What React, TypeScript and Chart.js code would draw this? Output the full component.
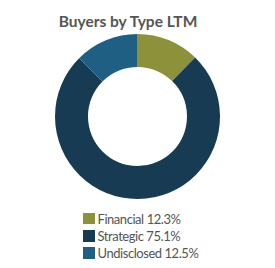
import React, { useEffect, useRef } from "react";
import { Chart, registerables } from "chart.js";

Chart.register(...registerables);

const title = "Buyers by Type LTM";
const categories = ["Financial", "Strategic", "Undisclosed"];
const values = [12.3, 75.1, 12.5];
const colors = ["#8d9139", "#173b52", "#1f5f84"];

export default function App() {
  const ref = useRef<HTMLCanvasElement | null>(null);

  useEffect(() => {
    if (!ref.current) return;
    const chart = new Chart(ref.current, {
      type: "doughnut",
      data: {
        labels: categories,
        datasets: [
          {
            data: values,
            backgroundColor: colors,
            borderWidth: 0,
          },
        ],
      },
      options: {
        responsive: false,
        animation: false,
        cutout: "60%",
        layout: { padding: 0 },
        plugins: {
          legend: { display: false },
          tooltip: { enabled: false },
        },
      },
    });
    return () => chart.destroy();
  }, []);

  const font = "Lato, 'Open Sans', sans-serif";

  return (
    <div style={{ position: "relative", width: 259, height: 252, fontFamily: font }}>
      <div
        style={{
          position: "absolute",
          left: 0,
          width: 240,
          top: 0,
          textAlign: "center",
          fontWeight: 700,
          fontSize: 15.5,
          color: "#555",
          lineHeight: "26px",
        }}
      >
        {title}
      </div>
      <canvas
        ref={ref}
        width={165}
        height={165}
        style={{ position: "absolute", left: 47, top: 26, width: 165, height: 165 }}
      />
      <div style={{ position: "absolute", left: 75, top: 202 }}>
        {categories.map((c, i) => (
          <div
            key={c}
            style={{
              display: "flex",
              alignItems: "center",
              height: 17.3,
              fontSize: 13,
              letterSpacing: "-0.45px",
              color: "#555",
            }}
          >
            <span
              style={{
                display: "inline-block",
                width: 11.5,
                height: 11.5,
                background: colors[i],
                marginRight: 3,
              }}
            />
            <span>
              {c} {values[i].toFixed(1)}%
            </span>
          </div>
        ))}
      </div>
    </div>
  );
}
